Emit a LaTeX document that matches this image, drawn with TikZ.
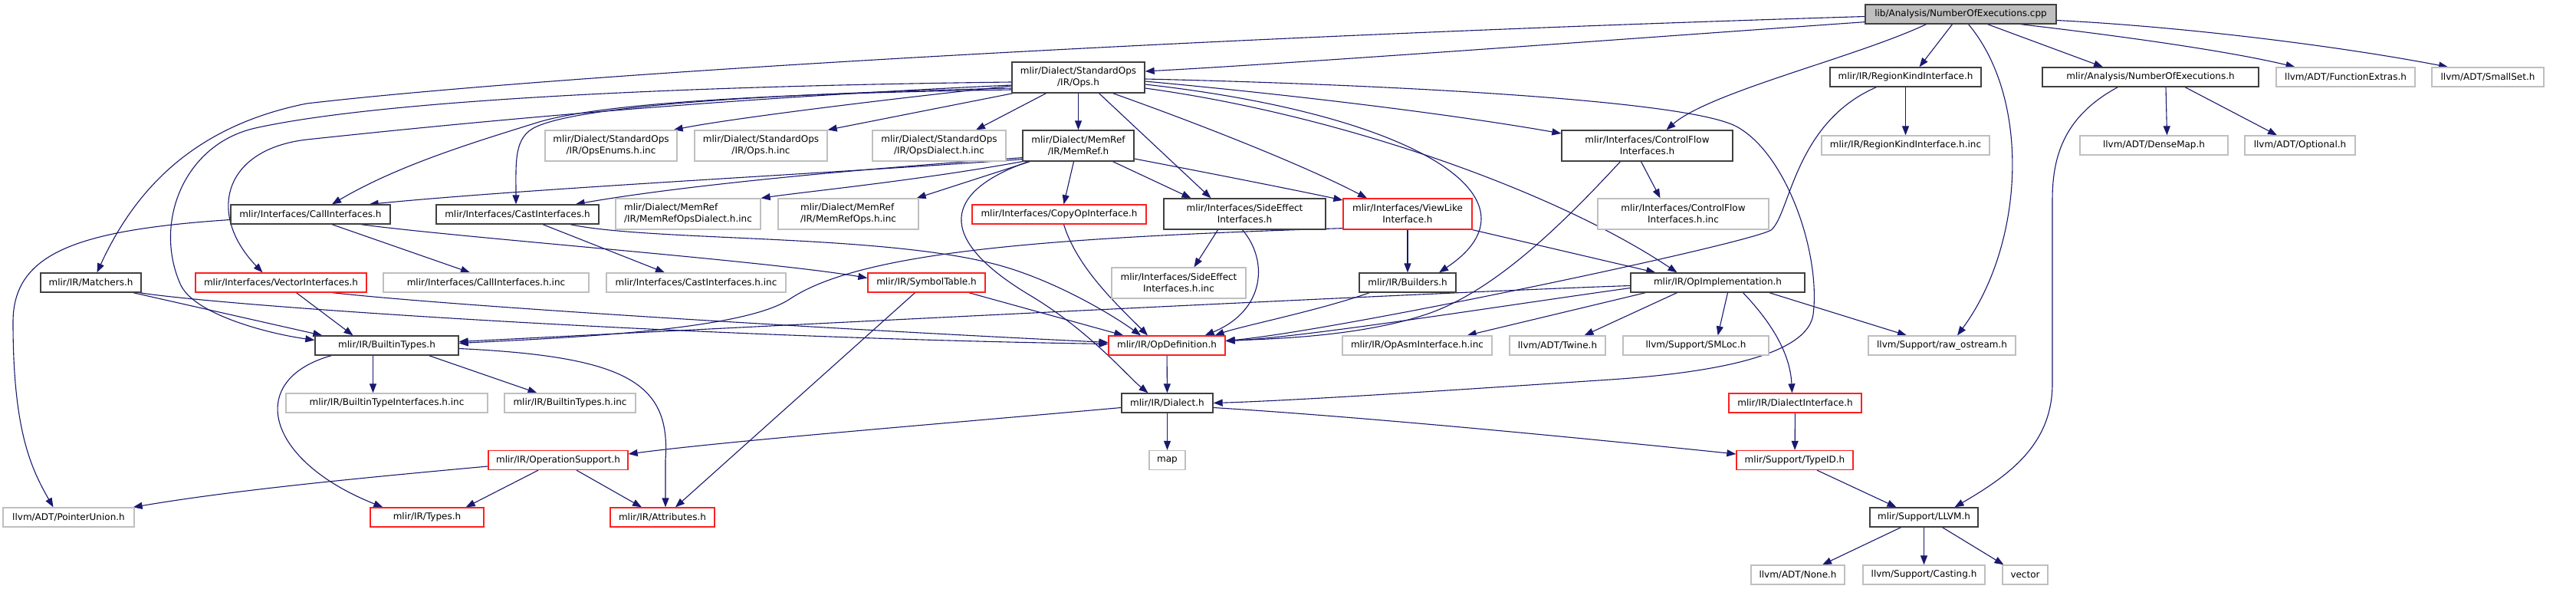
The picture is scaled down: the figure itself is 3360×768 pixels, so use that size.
\documentclass[tikz,border=0pt]{standalone}
\usepackage{fontspec}
\setmainfont{DejaVu Sans}
\usetikzlibrary{arrows.meta,calc}
\pgfdeclarelayer{bg}
\pgfsetlayers{bg,main}
\definecolor{edgec}{HTML}{191970}
\definecolor{nblk}{HTML}{404040}
\definecolor{ngry}{HTML}{BFBFBF}
\definecolor{nred}{HTML}{FF2020}
\begin{document}
\begin{tikzpicture}[x=1pt,y=-1pt,
  nd/.style={rectangle, inner sep=0pt, line width=1.3pt, fill=white, font=\fontsize{12}{15}\selectfont, align=center, text=black},
  blk/.style={nd, draw=nblk},
  gry/.style={nd, draw=ngry},
  rd/.style={nd, draw=nred},
  rootn/.style={nd, draw=nblk, fill=ngry},
  sz/.style 2 args={minimum width=#1pt, minimum height=#2pt},
  e/.style={draw=edgec, line width=1.1pt, -{Triangle[length=12pt,width=9pt]}}]
\useasboundingbox (0,0) rectangle (3360,768);
% nodes
\node[rootn, sz={249}{25}] (root) at (2557.5,18.5) {lib/Analysis/NumberOfExecutions.cpp};
\node[blk, sz={173}{40}] (stdops) at (1406.5,101) {mlir/Dialect/StandardOps\\/IR/Ops.h};
\node[blk, sz={197}{25}] (regionkind) at (2485.5,100.5) {mlir/IR/RegionKindInterface.h};
\node[blk, sz={282}{25}] (anoe) at (2805,100.5) {mlir/Analysis/NumberOfExecutions.h};
\node[gry, sz={181}{25}] (funcext) at (3059.5,100.5) {llvm/ADT/FunctionExtras.h};
\node[gry, sz={146}{25}] (smallset) at (3245,100.5) {llvm/ADT/SmallSet.h};
\node[gry, sz={172}{40}] (opsenums) at (797,190) {mlir/Dialect/StandardOps\\/IR/OpsEnums.h.inc};
\node[gry, sz={173}{40}] (opsinc) at (992.5,190) {mlir/Dialect/StandardOps\\/IR/Ops.h.inc};
\node[gry, sz={174}{40}] (opsdialect) at (1225,190) {mlir/Dialect/StandardOps\\/IR/OpsDialect.h.inc};
\node[blk, sz={145}{40}] (memref) at (1406.5,190) {mlir/Dialect/MemRef\\/IR/MemRef.h};
\node[blk, sz={223}{40}] (controlflow) at (2148.5,190) {mlir/Interfaces/ControlFlow\\Interfaces.h};
\node[gry, sz={219}{25}] (regioninc) at (2485.5,189.5) {mlir/IR/RegionKindInterface.h.inc};
\node[gry, sz={193}{25}] (densemap) at (2809.5,189.5) {llvm/ADT/DenseMap.h};
\node[gry, sz={144}{25}] (optional) at (3000,189.5) {llvm/ADT/Optional.h};
\node[blk, sz={208}{25}] (callif) at (405,279.5) {mlir/Interfaces/CallInterfaces.h};
\node[blk, sz={212}{25}] (castif) at (675,279.5) {mlir/Interfaces/CastInterfaces.h};
\node[gry, sz={189}{40}, align=left] (mrdinc) at (897.5,279) {mlir/Dialect/MemRef\\/IR/MemRefOpsDialect.h.inc};
\node[gry, sz={183}{40}, align=left] (mropsinc) at (1106.5,279) {mlir/Dialect/MemRef\\/IR/MemRefOps.h.inc};
\node[rd, sz={227}{25}] (copyop) at (1381.5,279.5) {mlir/Interfaces/CopyOpInterface.h};
\node[blk, sz={211}{40}] (sideeffect) at (1623.5,279) {mlir/Interfaces/SideEffect\\Interfaces.h};
\node[rd, sz={168}{40}] (viewlike) at (1836,279) {mlir/Interfaces/ViewLike\\Interface.h};
\node[gry, sz={223}{40}] (cfinc) at (2195.5,279) {mlir/Interfaces/ControlFlow\\Interfaces.h.inc};
\node[blk, sz={131}{25}] (matchers) at (118.5,368.5) {mlir/IR/Matchers.h};
\node[rd, sz={223}{25}] (vectorif) at (366.5,368.5) {mlir/Interfaces/VectorInterfaces.h};
\node[gry, sz={268}{25}] (callinc) at (634,368.5) {mlir/Interfaces/CallInterfaces.h.inc};
\node[gry, sz={234}{25}] (castinc) at (908,368.5) {mlir/Interfaces/CastInterfaces.h.inc};
\node[rd, sz={153}{25}] (symtab) at (1208.5,368.5) {mlir/IR/SymbolTable.h};
\node[gry, sz={175}{40}] (seinc) at (1537.5,369) {mlir/Interfaces/SideEffect\\Interfaces.h.inc};
\node[blk, sz={126}{25}] (builders) at (1836,368.5) {mlir/IR/Builders.h};
\node[blk, sz={227}{25}] (opimpl) at (2240.5,368.5) {mlir/IR/OpImplementation.h};
\node[blk, sz={187}{25}] (builtintypes) at (504.5,450.5) {mlir/IR/BuiltinTypes.h};
\node[rd, sz={152}{25}] (opdef) at (1522,450.5) {mlir/IR/OpDefinition.h};
\node[gry, sz={195}{25}] (opasminc) at (1848.5,450.5) {mlir/IR/OpAsmInterface.h.inc};
\node[gry, sz={125}{25}] (twine) at (2031.5,450.5) {llvm/ADT/Twine.h};
\node[gry, sz={190}{25}] (smloc) at (2212,450.5) {llvm/Support/SMLoc.h};
\node[gry, sz={192}{25}] (rawos) at (2533,450.5) {llvm/Support/raw\_ostream.h};
\node[gry, sz={263}{25}] (btiinc) at (504.5,525.5) {mlir/IR/BuiltinTypeInterfaces.h.inc};
\node[gry, sz={171}{25}] (btinc) at (743.5,525.5) {mlir/IR/BuiltinTypes.h.inc};
\node[blk, sz={119}{25}] (dialect) at (1522.5,525.5) {mlir/IR/Dialect.h};
\node[rd, sz={173}{25}] (dialectif) at (2341.5,525.5) {mlir/IR/DialectInterface.h};
\node[rd, sz={182}{25}] (opsupport) at (728,600) {mlir/IR/OperationSupport.h};
\node[gry, sz={47}{25}] (map) at (1522.5,600) {map};
\node[rd, sz={152}{25}] (typeid) at (2341,600) {mlir/Support/TypeID.h};
\node[gry, sz={171}{25}] (pointerunion) at (89.5,674.5) {llvm/ADT/PointerUnion.h};
\node[rd, sz={148}{25}] (types) at (557,674.5) {mlir/IR/Types.h};
\node[rd, sz={136}{25}] (attributes) at (864,674.5) {mlir/IR/Attributes.h};
\node[blk, sz={141}{25}] (llvmh) at (2509.5,674.5) {mlir/Support/LLVM.h};
\node[gry, sz={122}{25}] (none) at (2345,749.5) {llvm/ADT/None.h};
\node[gry, sz={159}{25}] (casting) at (2509.5,749.5) {llvm/Support/Casting.h};
\node[gry, sz={59}{25}] (vector) at (2641.5,749.5) {vector};
\begin{pgfonlayer}{bg}
\fill[white] (0,0) rectangle (3360,768);
% root
\draw[e] ($(root.south west)+(0,-3)$) .. controls (2200,45) and (1700,82) .. ($(stdops.east)+(0,-8)$);
\draw[e] ($(root.west)+(0,3)$) .. controls (1500,50) and (700,100) .. (400,135) .. controls (250,165) and (175,250) .. ($(matchers.north)+(8,0)$);
\draw[e] ($(root.south)+(-45,0)$) .. controls (2420,75) and (2230,120) .. ($(controlflow.north)+(25,0)$);
\draw[e] ($(root.south)+(-11,0)$) -- ($(regionkind.north)+(18,0)$);
\draw[e] ($(root.south)+(10,0)$) .. controls (2650,130) and (2640,320) .. ($(rawos.north)+(20,0)$);
\draw[e] ($(root.south)+(35,0)$) -- ($(anoe.north)+(-62,0)$);
\draw[e] ($(root.south)+(78,0)$) .. controls (2750,45) and (2900,65) .. ($(funcext.north)+(-66,0)$);
\draw[e] ($(root.east)+(0,8)$) .. controls (2850,35) and (3050,60) .. ($(smallset.north)+(-52,0)$);
% stdops
\draw[e] ($(stdops.west)+(0,11)$) .. controls (1150,130) and (950,155) .. ($(opsenums.north east)+(-5,0)$);
\draw[e] ($(stdops.south west)+(2,0)$) -- (opsinc.north east);
\draw[e] ($(stdops.south)+(-42,0)$) -- ($(opsdialect.north)+(48,0)$);
\draw[e] (stdops) -- (memref);
\draw[e] ($(stdops.south)+(27,0)$) -- ($(sideeffect.north)+(-44,0)$);
\draw[e] ($(stdops.south)+(45,0)$) .. controls (1560,160) and (1700,215) .. ($(viewlike.north)+(-53,0)$);
\draw[e] ($(stdops.east)+(0,9)$) .. controls (1850,150) and (2020,260) .. ($(builders.north)+(41,0)$);
\draw[e] ($(stdops.east)+(0,14)$) .. controls (1750,150) and (2030,250) .. ($(opimpl.north)+(-53,0)$);
\draw[e] ($(stdops.east)+(0,5)$) .. controls (1700,125) and (1900,150) .. ($(controlflow.west)+(0,-16)$);
\draw[e] ($(stdops.east)+(0,2)$) .. controls (1800,110) and (2200,130) .. (2265,165) .. controls (2330,200) and (2375,330) .. (2365,410) .. controls (2358,460) and (2250,485) .. (2100,495) .. controls (1950,505) and (1700,522) .. (dialect.east);
\draw[e] ($(stdops.west)+(0,16)$) .. controls (1000,122) and (780,135) .. (700,160) .. controls (620,185) and (520,215) .. ($(callif.north)+(28,0)$);
\draw[e] ($(stdops.west)+(0,14)$) .. controls (1000,122) and (760,138) .. (700,165) .. controls (670,178) and (673,210) .. ($(castif.north)+(-2,0)$);
\draw[e] ($(stdops.west)+(0,10)$) .. controls (900,130) and (560,165) .. (400,182) .. controls (290,195) and (270,280) .. ($(vectorif.north)+(-24,0)$);
\draw[e] ($(stdops.west)+(0,6)$) .. controls (900,112) and (500,130) .. (333,167) .. controls (240,188) and (200,290) .. (235,370) .. controls (252,410) and (350,435) .. ($(builtintypes.west)+(0,-7)$);
% memref
\draw[e] ($(memref.south west)+(0,-3)$) .. controls (1100,225) and (700,245) .. ($(callif.north east)+(-28,0)$);
\draw[e] ($(memref.south west)+(0,-5)$) .. controls (1150,218) and (900,240) .. ($(castif.north east)+(-31,0)$);
\draw[e] (memref.south west) .. controls (1200,235) and (1050,250) .. (mrdinc.north east);
\draw[e] ($(memref.south west)+(10,0)$) -- ($(mropsinc.north east)+(-3,0)$);
\draw[e] ($(memref.south)+(-6,0)$) -- ($(copyop.north)+(6,0)$);
\draw[e] ($(memref.south)+(45,0)$) -- ($(sideeffect.north)+(-70,0)$);
\draw[e] ($(memref.east)+(0,17)$) .. controls (1600,230) and (1700,250) .. ($(viewlike.west)+(0,-18)$);
\draw[e] ($(memref.south west)+(8,0)$) .. controls (1230,250) and (1220,310) .. (1340,383) .. controls (1420,430) and (1470,490) .. ($(dialect.north)+(-25,0)$);
% callif
\draw[e] ($(callif.west)+(0,7)$) .. controls (100,300) and (17,330) .. (17,420) .. controls (17,560) and (40,610) .. ($(pointerunion.north)+(-20,0)$);
\draw[e] ($(callif.south)+(28,0)$) -- ($(callinc.north)+(-21,0)$);
\draw[e] ($(callif.south east)+(-39,0)$) .. controls (600,310) and (1000,340) .. ($(symtab.west)+(0,-6)$);
% castif
\draw[e] ($(castif.south)+(33,0)$) -- ($(castinc.north)+(-41,0)$);
\draw[e] ($(castif.south east)+(-38,0)$) .. controls (850,315) and (1150,305) .. (1300,345) .. controls (1375,365) and (1450,410) .. ($(opdef.north)+(-34,0)$);
% symtab
\draw[e] ($(symtab.south east)+(-22,0)$) -- ($(opdef.north west)+(20,0)$);
\draw[e] ($(symtab.south)+(-15,0)$) -- ($(attributes.north)+(17,0)$);
% copyop, sideeffect
\draw[e] ($(copyop.south)+(6,0)$) .. controls (1405,350) and (1460,400) .. ($(opdef.north)+(-25,0)$);
\draw[e] ($(sideeffect.south)+(-35,0)$) -- ($(seinc.north)+(20,0)$);
\draw[e] ($(sideeffect.south)+(-3,0)$) .. controls (1655,340) and (1650,405) .. ($(opdef.north east)+(-27,0)$);
% viewlike
\draw[e] (viewlike) -- (builders);
\draw[e] (viewlike.south east) -- ($(opimpl.north west)+(33,0)$);
\draw[e] ($(viewlike.south west)+(0,-2)$) .. controls (1350,310) and (1120,330) .. (1030,390) .. controls (970,430) and (750,440) .. ($(builtintypes.east)+(0,-3)$);
% controlflow
\draw[e] ($(controlflow.south)+(-8,0)$) -- ($(cfinc.north)+(-30,0)$);
\draw[e] ($(controlflow.south)+(-35,0)$) .. controls (2040,290) and (1950,380) .. (1860,410) .. controls (1770,440) and (1650,442) .. ($(opdef.east)+(0,-6)$);
% regionkind
\draw[e] (regionkind) -- (regioninc);
\draw[e] ($(regionkind.south)+(-38,0)$) .. controls (2340,160) and (2335,280) .. (2310,300) .. controls (2280,318) and (1750,430) .. ($(opdef.east)+(0,-6)$);
% builders
\draw[e] ($(builders.south west)+(14,0)$) .. controls (1720,405) and (1620,425) .. ($(opdef.north east)+(-14,0)$);
% opimpl
\draw[e] ($(opimpl.west)+(0,7)$) .. controls (1950,400) and (1700,440) .. ($(opdef.east)+(0,-6)$);
\draw[e] ($(opimpl.west)+(0,4)$) .. controls (1900,380) and (1100,420) .. ($(builtintypes.east)+(0,-5)$);
\draw[e] ($(opimpl.south west)+(20,0)$) -- ($(opasminc.north east)+(-33,0)$);
\draw[e] ($(opimpl.south)+(-53,0)$) -- ($(twine.north)+(35,0)$);
\draw[e] ($(opimpl.south)+(13,0)$) -- ($(smloc.north east)+(-67,0)$);
\draw[e] ($(opimpl.south)+(33,0)$) .. controls (2310,420) and (2335,460) .. ($(dialectif.north)+(-4,0)$);
\draw[e] ($(opimpl.south east)+(-47,0)$) -- ($(rawos.north)+(-46,0)$);
% anoe
\draw[e] ($(anoe.south)+(20,0)$) -- ($(densemap.north)+(17,0)$);
\draw[e] ($(anoe.south)+(45,0)$) -- ($(optional.north)+(-30,0)$);
\draw[e] ($(anoe.south west)+(99,0)$) .. controls (2695,150) and (2677,200) .. (2677,260) -- (2677,500) .. controls (2677,580) and (2620,620) .. ($(llvmh.north)+(40,0)$);
% builtintypes
\draw[e] ($(builtintypes.south)+(-18,0)$) -- ($(btiinc.north)+(-18,0)$);
\draw[e] ($(builtintypes.south)+(55,0)$) -- ($(btinc.north)+(-43,0)$);
\draw[e] ($(builtintypes.south west)+(22,0)$) .. controls (320,495) and (345,600) .. ($(types.north west)+(17,0)$);
\draw[e] ($(builtintypes.east)+(0,4)$) .. controls (820,465) and (875,500) .. (868,600) -- ($(attributes.north)+(4,0)$);
% matchers, vectorif
\draw[e] ($(matchers.south east)+(-11,0)$) -- ($(builtintypes.north west)+(10,0)$);
\draw[e] ($(matchers.south east)+(-3,0)$) .. controls (300,400) and (900,440) .. ($(opdef.west)+(0,-2)$);
\draw[e] ($(vectorif.south)+(20,0)$) -- ($(builtintypes.north)+(-44,0)$);
\draw[e] ($(vectorif.south east)+(-45,0)$) .. controls (600,400) and (1100,430) .. ($(opdef.west)+(0,-4)$);
% opdef, dialect
\draw[e] (opdef) -- (dialect);
\draw[e] (dialect) -- (map);
\draw[e] ($(dialect.west)+(0,6)$) .. controls (1200,555) and (950,575) .. ($(opsupport.east)+(0,-8)$);
\draw[e] ($(dialect.east)+(0,6)$) .. controls (1800,545) and (2100,575) .. ($(typeid.west)+(0,-8)$);
% opsupport
\draw[e] ($(opsupport.west)+(0,8)$) .. controls (450,625) and (300,640) .. ($(pointerunion.north east)+(-2,0)$);
\draw[e] ($(opsupport.south)+(-26,0)$) -- ($(types.north east)+(-24,0)$);
\draw[e] ($(opsupport.south)+(24,0)$) -- ($(attributes.north)+(-27,0)$);
% lower right
\draw[e] (dialectif) -- (typeid);
\draw[e] ($(typeid.south)+(29,0)$) -- ($(llvmh.north)+(-36,0)$);
\draw[e] ($(llvmh.south)+(-30,0)$) -- ($(none.north)+(32,0)$);
\draw[e] (llvmh) -- (casting);
\draw[e] ($(llvmh.south)+(24,0)$) -- ($(vector.north)+(-28,0)$);
\end{pgfonlayer}
\end{tikzpicture}
\end{document}
